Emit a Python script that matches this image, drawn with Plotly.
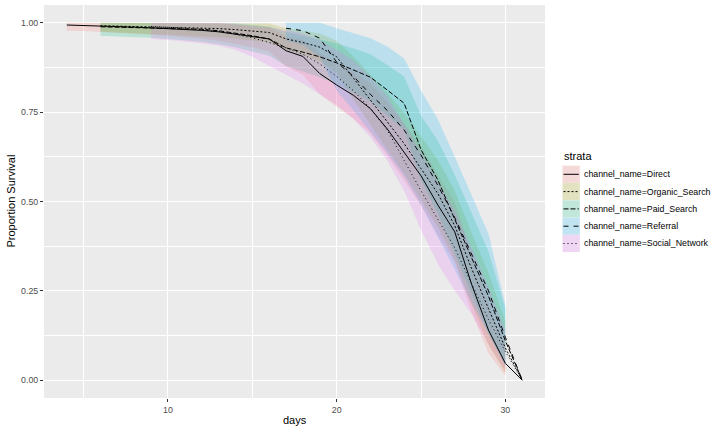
import plotly.graph_objects as go

strata = ["channel_name=Direct", "channel_name=Organic_Search", "channel_name=Paid_Search",
          "channel_name=Referral", "channel_name=Social_Network"]

days_direct = list(range(4, 32))
surv_direct = [0.994, 0.993, 0.992, 0.990, 0.988, 0.986, 0.984, 0.982, 0.979, 0.975, 0.969, 0.963, 0.955,
               0.922, 0.906, 0.858, 0.826, 0.797, 0.760, 0.703, 0.638, 0.572, 0.490, 0.415, 0.268, 0.140,
               0.047, 0.0]
lower_direct = [0.978, 0.977, 0.976, 0.973, 0.970, 0.967, 0.964, 0.961, 0.956, 0.950, 0.941, 0.932, 0.920,
                0.878, 0.855, 0.800, 0.765, 0.732, 0.690, 0.628, 0.558, 0.489, 0.405, 0.330, 0.190, 0.075,
                0.012]
upper_direct = [1.0, 1.0, 1.0, 1.0, 1.0, 1.0, 1.0, 1.0, 1.0, 0.998, 0.995, 0.992, 0.988, 0.962, 0.952,
                0.915, 0.888, 0.862, 0.830, 0.778, 0.718, 0.655, 0.575, 0.500, 0.350, 0.215, 0.100]

days_organic = list(range(6, 32))
surv_organic = [0.992, 0.991, 0.990, 0.989, 0.988, 0.987, 0.986, 0.984, 0.981, 0.978, 0.973, 0.955, 0.945,
                0.932, 0.905, 0.845, 0.785, 0.725, 0.662, 0.592, 0.522, 0.432, 0.312, 0.200, 0.090, 0.0]
lower_organic = [0.975, 0.973, 0.971, 0.969, 0.967, 0.965, 0.963, 0.960, 0.956, 0.951, 0.945, 0.925, 0.910,
                 0.892, 0.860, 0.785, 0.715, 0.645, 0.578, 0.502, 0.428, 0.335, 0.212, 0.100, 0.020]
upper_organic = [1.0, 1.0, 1.0, 1.0, 1.0, 1.0, 1.0, 1.0, 1.0, 1.0, 0.998, 0.985, 0.978, 0.970, 0.950,
                 0.905, 0.855, 0.805, 0.748, 0.682, 0.616, 0.530, 0.412, 0.300, 0.165]

days_paid = list(range(6, 32))
surv_paid = [0.989, 0.988, 0.987, 0.986, 0.985, 0.984, 0.982, 0.978, 0.972, 0.964, 0.955, 0.930, 0.918,
             0.905, 0.888, 0.868, 0.848, 0.812, 0.775, 0.645, 0.560, 0.450, 0.345, 0.235, 0.110, 0.0]
lower_paid = [0.964, 0.962, 0.960, 0.958, 0.955, 0.951, 0.947, 0.940, 0.932, 0.920, 0.908, 0.880, 0.865,
              0.848, 0.828, 0.805, 0.780, 0.740, 0.700, 0.560, 0.465, 0.350, 0.240, 0.130, 0.040]
upper_paid = [1.0, 1.0, 1.0, 1.0, 1.0, 1.0, 1.0, 1.0, 0.998, 0.995, 0.990, 0.975, 0.965, 0.955, 0.943,
              0.928, 0.912, 0.882, 0.850, 0.740, 0.670, 0.575, 0.470, 0.360, 0.200]

days_referral = list(range(17, 32))
surv_referral = [0.985, 0.978, 0.957, 0.890, 0.850, 0.800, 0.755, 0.700, 0.630, 0.545, 0.455, 0.350, 0.250,
                 0.120, 0.0]
lower_referral = [0.950, 0.938, 0.905, 0.810, 0.755, 0.695, 0.635, 0.570, 0.490, 0.400, 0.310, 0.215, 0.130,
                  0.040]
upper_referral = [1.0, 1.0, 1.0, 0.985, 0.970, 0.957, 0.934, 0.900, 0.810, 0.730, 0.625, 0.515, 0.410,
                  0.210]

days_social = list(range(9, 32))
surv_social = [0.990, 0.988, 0.985, 0.981, 0.976, 0.968, 0.958, 0.945, 0.930, 0.912, 0.885, 0.850, 0.810,
               0.760, 0.700, 0.615, 0.530, 0.450, 0.370, 0.270, 0.170, 0.080, 0.0]
lower_social = [0.955, 0.952, 0.948, 0.943, 0.936, 0.925, 0.905, 0.880, 0.855, 0.830, 0.800, 0.770, 0.730,
                0.680, 0.615, 0.530, 0.420, 0.325, 0.250, 0.185, 0.100, 0.025]
upper_social = [1.0, 1.0, 1.0, 1.0, 1.0, 0.997, 0.993, 0.988, 0.980, 0.970, 0.952, 0.925, 0.895, 0.850,
                0.795, 0.715, 0.635, 0.555, 0.475, 0.370, 0.260, 0.140]

x_ticks = [10, 20, 30]
y_ticks = [0.0, 0.25, 0.5, 0.75, 1.0]
x_title = "days"
y_title = "Proportion Survival"
legend_title = "strata"

series = [
    (days_direct, surv_direct, lower_direct, upper_direct),
    (days_organic, surv_organic, lower_organic, upper_organic),
    (days_paid, surv_paid, lower_paid, upper_paid),
    (days_referral, surv_referral, lower_referral, upper_referral),
    (days_social, surv_social, lower_social, upper_social),
]
colors = [(248, 118, 109), (163, 165, 0), (0, 191, 125), (0, 176, 246), (231, 107, 243)]
dashes = ["solid", "2px,2px", "5px,2px", "5px,5px", "1px,3px"]

fig = go.Figure()
for (d, s, lo, up), c in zip(series, colors):
    dd = d[:len(lo)]
    fig.add_trace(go.Scatter(
        x=dd + dd[::-1], y=up + lo[::-1], mode="lines", fill="toself",
        fillcolor="rgba(%d,%d,%d,0.2)" % c, line=dict(width=0), hoverinfo="skip", showlegend=False))
for (d, s, lo, up), dash, name in zip(series, dashes, strata):
    fig.add_trace(go.Scatter(x=d, y=s, mode="lines", name=name,
                             line=dict(color="black", width=1, dash=dash), showlegend=False))

# manual ggplot-like legend
L, R, T, B = 44, 545, 5, 398
def px(xp):
    return (xp - L) / (R - L)
def py(yp):
    return (B - yp) / (B - T)

shapes = []
annotations = []
annotations.append(dict(x=px(562), y=py(156), xref="paper", yref="paper", text=legend_title, showarrow=False,
                        xanchor="left", yanchor="middle", font=dict(size=11, color="black")))
for i, (name, c, dash) in enumerate(zip(strata, colors, dashes)):
    cy = 174.3 + i * 17.3
    shapes.append(dict(type="rect", xref="paper", yref="paper", x0=px(562.5), x1=px(579.8),
                       y0=py(cy + 8.6), y1=py(cy - 8.6), fillcolor="#F2F2F2", line=dict(width=0)))
    shapes.append(dict(type="rect", xref="paper", yref="paper", x0=px(562.5), x1=px(579.8),
                       y0=py(cy + 8.6), y1=py(cy - 8.6), fillcolor="rgba(%d,%d,%d,0.2)" % c,
                       line=dict(width=0)))
    shapes.append(dict(type="line", xref="paper", yref="paper", x0=px(563.5), x1=px(578.8),
                       y0=py(cy), y1=py(cy), line=dict(color="black", width=1, dash=dash)))
    annotations.append(dict(x=px(582), y=py(cy), xref="paper", yref="paper", text=name, showarrow=False,
                            xanchor="left", yanchor="middle", font=dict(size=8.8, color="black")))

# axis titles (ggplot placement)
annotations.append(dict(x=0.5, y=py(420), xref="paper", yref="paper", text=x_title, showarrow=False,
                        xanchor="center", yanchor="middle", font=dict(size=11, color="black")))
annotations.append(dict(x=px(10), y=0.5, xref="paper", yref="paper", text=y_title, showarrow=False,
                        textangle=-90, xanchor="center", yanchor="middle", font=dict(size=11, color="black")))

fig.update_layout(
    width=720, height=432,
    margin=dict(l=L, r=720 - R, t=T, b=432 - B),
    paper_bgcolor="white", plot_bgcolor="#EBEBEB",
    font=dict(family="Liberation Sans, Arial, sans-serif"),
    shapes=shapes, annotations=annotations, showlegend=False,
    xaxis=dict(range=[2.65, 32.35], tickvals=x_ticks, ticktext=[str(v) for v in x_ticks],
               automargin=False,
               showgrid=True, gridcolor="white", gridwidth=1.1, zeroline=False, showline=False,
               ticks="outside", ticklen=3, tickwidth=1, tickcolor="#333333",
               tickfont=dict(size=8.8, color="#4D4D4D"),
               minor=dict(tickvals=[5, 15, 25], showgrid=True, gridcolor="white", gridwidth=0.55)),
    yaxis=dict(range=[-0.05, 1.05], tickvals=y_ticks, ticktext=["%.2f" % v for v in y_ticks],
               automargin=False,
               showgrid=True, gridcolor="white", gridwidth=1.1, zeroline=False, showline=False,
               ticks="outside", ticklen=3, tickwidth=1, tickcolor="#333333",
               tickfont=dict(size=8.8, color="#4D4D4D"),
               minor=dict(tickvals=[0.125, 0.375, 0.625, 0.875], showgrid=True, gridcolor="white",
                          gridwidth=0.55)),
)

fig.write_html("out.html", config={"displayModeBar": False},
               post_script="document.body.style.margin='0';document.body.style.padding='0';")
